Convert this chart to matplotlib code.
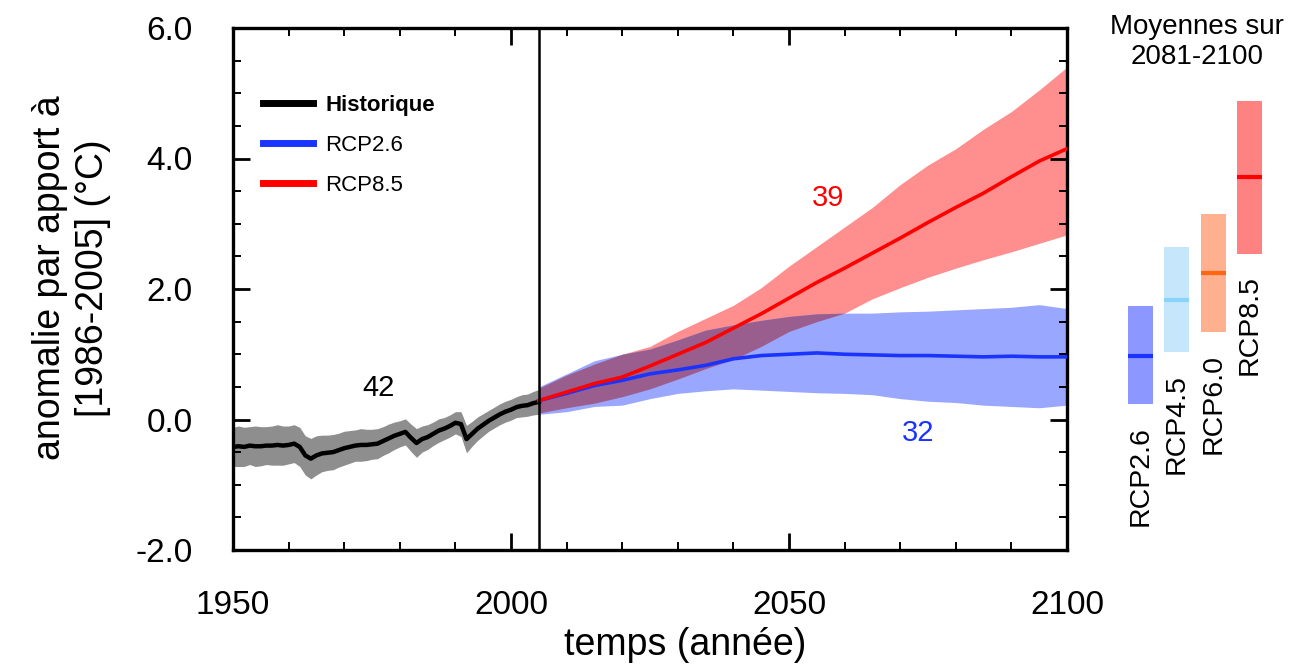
import matplotlib
matplotlib.use("Agg")
import matplotlib.pyplot as plt
from matplotlib import font_manager
from matplotlib.ticker import MultipleLocator, FixedLocator, FormatStrFormatter
import numpy as np

# ---------------- data ----------------
hist_years = list(range(1950, 2006))
hist_mean = [-0.42, -0.41, -0.42, -0.40, -0.41, -0.41, -0.40, -0.40, -0.39, -0.40,
             -0.39, -0.37, -0.42, -0.55, -0.60, -0.55, -0.52, -0.51, -0.50, -0.47,
             -0.44, -0.42, -0.40, -0.39, -0.39, -0.38, -0.37, -0.33, -0.29, -0.25,
             -0.22, -0.19, -0.28, -0.36, -0.30, -0.27, -0.22, -0.17, -0.14, -0.10,
             -0.05, -0.07, -0.30, -0.22, -0.14, -0.08, -0.02, 0.03, 0.08, 0.12,
             0.15, 0.19, 0.21, 0.22, 0.25, 0.27]
hist_half = [0.30, 0.31, 0.30, 0.29, 0.31, 0.30, 0.29, 0.30, 0.31, 0.30,
             0.29, 0.29, 0.30, 0.30, 0.31, 0.30, 0.28, 0.27, 0.27, 0.26,
             0.26, 0.25, 0.24, 0.25, 0.24, 0.23, 0.23, 0.22, 0.22, 0.21,
             0.20, 0.20, 0.21, 0.22, 0.20, 0.19, 0.18, 0.18, 0.17, 0.17,
             0.17, 0.19, 0.21, 0.19, 0.18, 0.17, 0.16, 0.16, 0.16, 0.16,
             0.16, 0.16, 0.17, 0.17, 0.18, 0.19]

fut_years = list(range(2005, 2101, 5))
rcp26_mean = [0.29, 0.40, 0.52, 0.60, 0.70, 0.76, 0.83, 0.93, 0.98, 1.00,
              1.02, 1.00, 0.99, 0.98, 0.98, 0.97, 0.96, 0.97, 0.96, 0.96]
rcp26_high = [0.50, 0.70, 0.90, 1.00, 1.08, 1.22, 1.37, 1.45, 1.52, 1.58,
              1.62, 1.63, 1.63, 1.65, 1.66, 1.68, 1.70, 1.72, 1.76, 1.70]
rcp26_low = [0.08, 0.12, 0.20, 0.22, 0.32, 0.40, 0.44, 0.47, 0.45, 0.43,
             0.41, 0.40, 0.38, 0.32, 0.28, 0.26, 0.22, 0.20, 0.18, 0.22]
rcp85_mean = [0.29, 0.42, 0.55, 0.65, 0.82, 1.00, 1.18, 1.40, 1.62, 1.86,
              2.10, 2.32, 2.55, 2.78, 3.02, 3.25, 3.47, 3.72, 3.96, 4.15]
rcp85_high = [0.48, 0.68, 0.85, 1.00, 1.12, 1.35, 1.55, 1.75, 2.02, 2.35,
              2.65, 2.95, 3.25, 3.60, 3.90, 4.15, 4.45, 4.72, 5.05, 5.40]
rcp85_low = [0.10, 0.18, 0.25, 0.35, 0.47, 0.62, 0.78, 0.92, 1.12, 1.35,
             1.50, 1.63, 1.85, 2.02, 2.18, 2.32, 2.45, 2.57, 2.70, 2.83]

n_models = {"Historique": "42", "RCP2.6": "32", "RCP8.5": "39"}

scenarios = ["RCP2.6", "RCP4.5", "RCP6.0", "RCP8.5"]
avg_mean = [0.98, 1.83, 2.24, 3.71]
avg_low = [0.23, 1.03, 1.34, 2.54]
avg_high = [1.74, 2.65, 3.15, 4.88]

x_ticks = [1950, 2000, 2050, 2100]
y_ticks = [-2.0, 0.0, 2.0, 4.0, 6.0]

# ---------------- styles ----------------
avail = {f.name for f in font_manager.fontManager.ttflist}
REG = "Liberation Sans" if "Liberation Sans" in avail else "DejaVu Sans"

c_gray_band = "#8e8e8e"
c_blue_band = "#9aa7ff"
c_red_band = "#ff8e8e"
c_overlap = "#9a5e8e"
c_blue = "#1a33ff"
c_red = "#ff0000"
bar_colors = ["#8c98ff", "#c6e7fb", "#ffb08e", "#ff8282"]
bar_line_colors = ["#1a33ff", "#88d4fa", "#ff6614", "#ff0000"]

W, H = 1289, 669
fig = plt.figure(figsize=(W / 100, H / 100), dpi=100)
ax_l, ax_r, ax_t, ax_b = 233, 1067, 28, 550
ax = fig.add_axes([ax_l / W, 1 - ax_b / H, (ax_r - ax_l) / W, (ax_b - ax_t) / H])

hy = np.array(hist_years)
hm = np.array(hist_mean)
hh = np.array(hist_half)
fy = np.array(fut_years)
b_lo, b_hi = np.array(rcp26_low), np.array(rcp26_high)
r_lo, r_hi = np.array(rcp85_low), np.array(rcp85_high)

ax.fill_between(hy, hm - hh, hm + hh, color=c_gray_band, lw=0, zorder=1)
ax.fill_between(fy, r_lo, r_hi, color=c_red_band, lw=0, zorder=1)
ax.fill_between(fy, b_lo, b_hi, color=c_blue_band, lw=0, zorder=1.1)
ov_lo = np.maximum(b_lo, r_lo)
ov_hi = np.minimum(b_hi, r_hi)
ax.fill_between(fy, ov_lo, ov_hi, where=ov_hi > ov_lo, interpolate=True,
                color=c_overlap, lw=0, zorder=1.2)

ax.plot(hy, hm, color="black", lw=3.2, zorder=3, label="Historique")
ax.plot(fy, rcp26_mean, color=c_blue, lw=2.6, zorder=3, label="RCP2.6")
ax.plot(fy, rcp85_mean, color=c_red, lw=2.6, zorder=3.1, label="RCP8.5")
ax.axvline(2005, color="black", lw=1.8, zorder=4)

ax.set_xlim(1950, 2100)
ax.set_ylim(-2, 6)
ax.xaxis.set_major_locator(FixedLocator(x_ticks))
ax.xaxis.set_minor_locator(MultipleLocator(10))
ax.yaxis.set_major_locator(FixedLocator(y_ticks))
ax.yaxis.set_minor_locator(MultipleLocator(0.5))
ax.yaxis.set_major_formatter(FormatStrFormatter("%.1f"))
ax.tick_params(which="both", direction="in", top=True, right=True)
ax.tick_params(which="major", length=12, width=2.0, pad=29, labelsize=24)
ax.tick_params(which="minor", length=6, width=1.4)
for lab in ax.get_xticklabels() + ax.get_yticklabels():
    lab.set_fontfamily(REG)
for s in ax.spines.values():
    s.set_linewidth(2.4)

leg = ax.legend(loc="upper left", bbox_to_anchor=(0.036, 0.872), frameon=False,
                borderpad=0, borderaxespad=0, handlelength=2.25, handletextpad=0.55,
                labelspacing=0.85, prop={"family": REG, "size": 16})
for line in leg.get_lines():
    line.set_linewidth(5)
leg.get_texts()[0].set_fontweight("bold")

ax.text(1976.1, 0.48, n_models["Historique"], color="black", ha="center", va="center",
        family=REG, fontsize=21)
ax.text(2057.0, 3.40, n_models["RCP8.5"], color=c_red, ha="center", va="center",
        family=REG, fontsize=21)
ax.text(2073.2, -0.20, n_models["RCP2.6"], color=c_blue, ha="center", va="center",
        family=REG, fontsize=21)

fig.text(685 / W, 1 - 645 / H, "temps (année)", family=REG, fontsize=27,
         ha="center", va="center")
fig.text(72 / W, 1 - 278 / H, "anomalie par apport à\n[1986-2005] (°C)", family=REG,
         fontsize=27, rotation=90, ha="center", va="center", linespacing=1.25)

# ---------- right panel: 2081-2100 averages ----------
pl, pr = 1104, 1286
axr = fig.add_axes([pl / W, 1 - ax_b / H, (pr - pl) / W, (ax_b - ax_t) / H])
axr.set_xlim(-1, 4)
axr.set_ylim(-2, 6)
axr.axis("off")
xs = np.arange(len(scenarios))
heights = np.array(avg_high) - np.array(avg_low)
axr.bar(xs, heights, bottom=avg_low, width=0.69, color=bar_colors, lw=0)
for xi, m, lo, lc, name in zip(xs, avg_mean, avg_low, bar_line_colors, scenarios):
    axr.hlines(m, xi - 0.345, xi + 0.345, color=lc, lw=3)
    axr.text(xi, lo - 0.33, name, rotation=90, ha="center", va="top",
             family=REG, fontsize=20.5)

fig.text(1197 / W, 1 - 42 / H, "Moyennes sur\n2081-2100", family=REG,
         fontsize=20, ha="center", va="center", linespacing=1.15)

fig.savefig("out.png", dpi=100)
